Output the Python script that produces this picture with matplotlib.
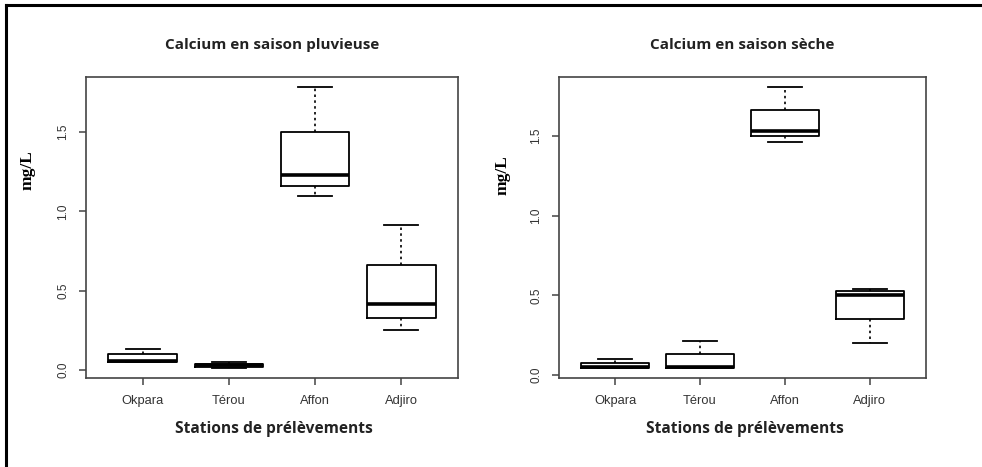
import matplotlib
matplotlib.use("Agg")
import matplotlib.pyplot as plt
from matplotlib.lines import Line2D

# Stations (x categories)
stations = ["Okpara", "Térou", "Affon", "Adjiro"]

# Calcium, rainy season: five-number summaries
pluv_low = [0.050, 0.015, 1.097, 0.252]
pluv_q1 = [0.050, 0.020, 1.162, 0.330]
pluv_med = [0.055, 0.030, 1.227, 0.414]
pluv_q3 = [0.103, 0.036, 1.499, 0.662]
pluv_high = [0.134, 0.052, 1.783, 0.914]

# Calcium, dry season
seche_low = [0.045, 0.045, 1.466, 0.199]
seche_q1 = [0.045, 0.045, 1.499, 0.350]
seche_med = [0.048, 0.048, 1.531, 0.503]
seche_q3 = [0.073, 0.134, 1.665, 0.528]
seche_high = [0.100, 0.216, 1.807, 0.540]

yticks = [0.0, 0.5, 1.0, 1.5]
titles = ["Calcium en saison pluvieuse", "Calcium en saison sèche"]

W, H = 982, 467
fig = plt.figure(figsize=(W / 100, H / 100), dpi=100)

# outer frame (only top and left visible)
fig.add_artist(Line2D([6 / W, 1], [1 - 5 / H, 1 - 5 / H], color="black", lw=2.2,
                      transform=fig.transFigure))
fig.add_artist(Line2D([6 / W, 6 / W], [0, 1 - 5 / H], color="black", lw=2.2,
                      transform=fig.transFigure))


def make_stats(low, q1, med, q3, high):
    return [dict(whislo=a, q1=b, med=c, q3=d, whishi=e, fliers=[])
            for a, b, c, d, e in zip(low, q1, med, q3, high)]


panels = [
    dict(rect=[86, 77, 458, 378], ylim=(-0.05, 1.847), ylab=(28, 170),
         stats=make_stats(pluv_low, pluv_q1, pluv_med, pluv_q3, pluv_high)),
    dict(rect=[559, 77, 926, 378], ylim=(-0.019, 1.872), ylab=(503, 175),
         stats=make_stats(seche_low, seche_q1, seche_med, seche_q3, seche_high)),
]

for i, p in enumerate(panels):
    x0, y0, x1, y1 = p["rect"]
    ax = fig.add_axes([x0 / W, 1 - y1 / H, (x1 - x0) / W, (y1 - y0) / H])
    ax.bxp(p["stats"], positions=range(1, 5), widths=0.8, showfliers=False,
           capwidths=0.4,
           boxprops=dict(color="black", lw=1.3),
           medianprops=dict(color="black", lw=2.6),
           whiskerprops=dict(color="black", lw=1.2, linestyle=(0, (1.5, 2))),
           capprops=dict(color="black", lw=1.3))
    ax.set_xlim(0.34, 4.66)
    ax.set_ylim(*p["ylim"])
    ax.set_xticks(range(1, 5))
    ax.set_xticklabels(stations, fontfamily="Liberation Sans", fontsize=9.3,
                       color="#333333")
    ax.set_yticks(yticks)
    ax.set_yticklabels([f"{v:.1f}" for v in yticks], rotation=90, va="center",
                       fontfamily="Liberation Sans", fontsize=8.5, color="#333333")
    ax.tick_params(length=5, width=1.1, color="#444444", pad=7)
    for s in ax.spines.values():
        s.set_color("#444444")
        s.set_linewidth(1.2)

    cx = (x0 + x1) / 2 / W
    fig.text(cx, 1 - 45 / H, titles[i], ha="center", va="center",
             fontfamily="Open Sans", fontweight="bold", fontsize=11,
             color="#222222")
    fig.text(cx + 2 / W, 1 - 429 / H, "Stations de prélèvements", ha="center",
             va="center", fontfamily="Open Sans", fontweight="bold", fontsize=11.2,
             color="#222222")
    lx, ly = p["ylab"]
    fig.text(lx / W, 1 - ly / H, "mg/L", rotation=90, ha="center", va="center",
             fontfamily="Liberation Serif", fontweight="bold", fontsize=12.5)

fig.savefig("out.png", dpi=100)
